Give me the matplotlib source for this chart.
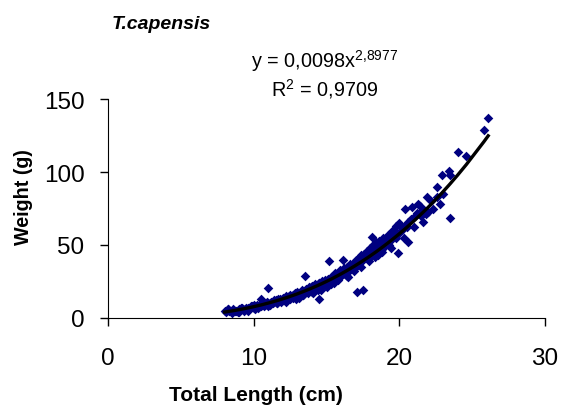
import numpy as np
import matplotlib.pyplot as plt

plt.rcParams["font.family"] = ["Liberation Sans", "DejaVu Sans"]
plt.rcParams["mathtext.default"] = "regular"

# ==========================================
# DATA
# ==========================================

length_cm = [
    8.0, 8.1, 8.2, 8.3, 8.5, 8.5, 8.6, 8.8, 8.9, 9.0, 9.0, 9.2, 9.3, 9.4,
    9.5, 9.6, 9.7, 9.8, 10.0, 10.0, 10.1, 10.2, 10.3, 10.4, 10.5, 10.5,
    10.6, 10.7, 10.8, 11.0, 11.0, 11.1, 11.2, 11.3, 11.4, 11.5, 11.6,
    11.7, 11.8, 11.9, 12.0, 12.0, 12.1, 12.2, 12.3, 12.4, 12.5, 12.5,
    12.6, 12.7, 12.8, 12.9, 13.0, 13.0, 13.1, 13.2, 13.3, 13.4, 13.5,
    13.5, 13.6, 13.7, 13.8, 13.9, 14.0, 14.0, 14.1, 14.2, 14.3, 14.4,
    14.5, 14.5, 14.6, 14.7, 14.8, 14.9, 15.0, 15.0, 15.1, 15.2, 15.2,
    15.3, 15.4, 15.5, 15.5, 15.6, 15.7, 15.8, 15.9, 16.0, 16.0, 16.1,
    16.1, 16.2, 16.3, 16.4, 16.5, 16.5, 16.6, 16.7, 16.8, 16.9, 17.0,
    17.0, 17.1, 17.1, 17.2, 17.3, 17.4, 17.5, 17.5, 17.6, 17.7, 17.8,
    17.9, 18.0, 18.0, 18.1, 18.1, 18.2, 18.3, 18.4, 18.5, 18.5, 18.6,
    18.7, 18.8, 18.9, 19.0, 19.0, 19.2, 19.3, 19.5, 19.5, 19.6, 19.8,
    19.8, 19.9, 20.0, 20.0, 20.2, 20.4, 20.4, 20.6, 20.6, 20.8, 20.9,
    21.0, 21.2, 21.3, 21.4, 21.5, 21.7, 21.9, 22.0, 22.2, 22.6, 22.8,
    22.9, 23.0, 23.4, 23.5, 23.5, 24.0, 24.6, 25.8, 26.1,
    # second pass over the dense band
    8.2, 8.7, 9.1, 9.5, 9.9, 10.2, 10.6, 10.9, 11.2, 11.5, 11.8, 12.1,
    12.4, 12.7, 13.0, 13.3, 13.6, 13.9, 14.2, 14.5, 14.8, 15.1, 15.4,
    15.7, 16.0, 16.3, 16.6, 16.9, 17.2, 17.5, 17.8, 18.1, 18.4, 18.7,
    19.0, 19.3, 19.7, 20.1, 20.5, 21.1, 21.6, 22.3, 22.6,
    9.0, 9.6, 10.4, 11.0, 11.6, 12.2, 12.9, 13.4, 14.1, 14.6, 15.3,
    15.8, 16.4, 16.9, 17.4, 17.9, 18.3, 18.8, 19.4, 20.3, 21.8, 21.6,
]

weight_g = [
    5, 4, 6, 5, 5, 3.5, 6, 5, 4, 6, 5, 7, 5, 6,
    7, 5, 6, 8, 7, 9, 6, 8, 7, 9, 8, 13,
    10, 8, 9, 20.5, 10, 9, 11, 10, 12, 11, 10,
    13, 12, 11, 14, 12, 13, 15, 12, 14, 16, 13,
    15, 14, 17, 15, 16, 18, 14, 17, 19, 16, 28.8,
    18, 20, 17, 21, 19, 22, 18, 20, 23, 21, 19,
    24, 13, 22, 25, 23, 26, 24, 21, 27, 39, 25,
    28, 26, 29, 24, 31, 27, 30, 33, 29, 32, 39.7,
    31, 34, 30, 35, 33, 28, 37, 34, 36, 38, 35,
    40, 18, 37, 41, 39, 43, 19.3, 40, 44, 42, 46,
    41, 48, 44, 55.5, 46, 50, 45, 52, 48, 43, 53,
    50, 47, 55, 52, 49, 57, 50, 59.6, 54, 60, 63,
    55, 44.5, 58, 65, 60, 75, 63, 52, 66, 68, 76,
    62, 72, 78, 77, 70, 74, 83, 72.6, 80, 90, 78,
    98, 85, 101, 68.5, 98, 113.7, 111, 128.8, 137,
    6, 5, 7, 6, 8, 9, 9, 11, 10, 12, 13, 12,
    15, 16, 15, 18, 19, 21, 20, 24, 24, 25, 28,
    28, 31, 33, 33, 37, 38, 41, 44, 47, 49, 52,
    54, 57, 58, 62, 62, 70, 74, 75, 83,
    4, 7, 8, 8, 10, 11, 13, 16, 17, 19, 23,
    26, 29, 32, 35, 39, 42, 45, 48, 55, 71, 66,
]

# power trendline as printed on the chart
fit_a = 0.0098
fit_b = 2.8977
fit_r2 = "0,9709"

# ==========================================
# PLOT
# ==========================================

fig = plt.figure(figsize=(5.63, 4.10), dpi=100)
ax = fig.add_axes([0.192, 0.222, 0.776, 0.534])

ax.scatter(length_cm, weight_g, marker="D", s=24,
           color="#000080", linewidths=0, zorder=2)

fit_x = np.sort(np.array(length_cm))
fit_y = fit_a * fit_x ** fit_b
ax.plot(fit_x, fit_y, color="black", lw=2.4, zorder=3)

ax.set_xlim(0, 30)
ax.set_ylim(0, 150)
ax.set_xticks([0, 10, 20, 30])
ax.set_yticks([0, 50, 100, 150])

for side in ["top", "right"]:
    ax.spines[side].set_visible(False)

ax.tick_params(direction="out", length=6, width=1,
               labelsize=17.5, pad=11)
ax.tick_params(axis="x", pad=15)

fig.text(0.455, 0.035, "Total Length (cm)", fontsize=15,
         fontweight="bold", ha="center", va="center")
fig.text(0.042, 0.52, "Weight (g)", fontsize=14.2, fontweight="bold",
         rotation=90, ha="center", va="center")

fig.text(0.199, 0.94, "T.capensis", fontsize=14, fontweight="bold",
         style="italic", ha="left", va="center")

fig.text(0.577, 0.85, "y = 0,0098x$^{2{,}8977}$", fontsize=14.3,
         ha="center", va="center")
fig.text(0.577, 0.782, "R$^{2}$ = " + fit_r2, fontsize=14.3,
         ha="center", va="center")

plt.savefig("out.png", dpi=100)
plt.close()
